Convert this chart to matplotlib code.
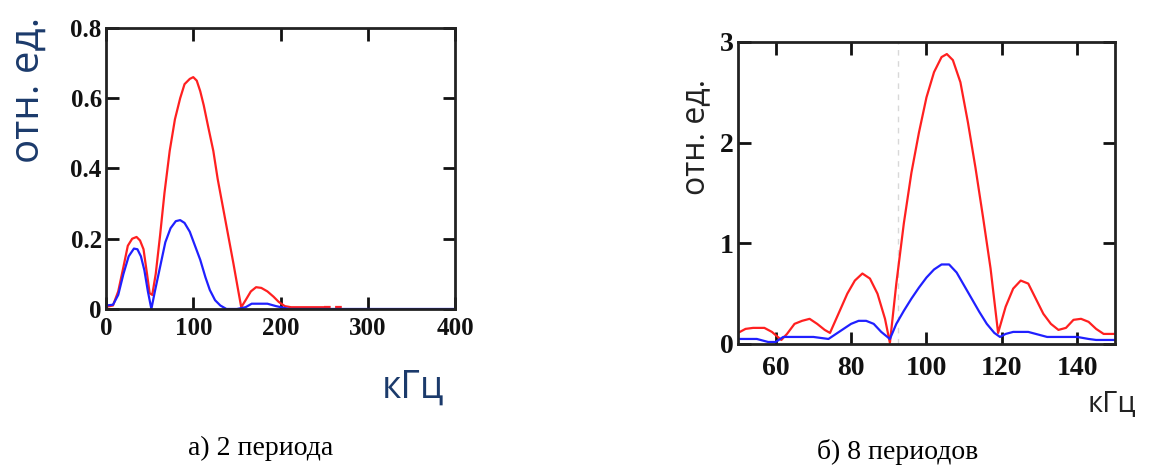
import numpy as np
from matplotlib import pyplot as plt

# a) 2 periods
freq_a = [0, 8, 14, 20, 25, 30, 35, 39, 43, 47, 50, 53, 57, 62, 67, 73, 79, 85, 90, 96, 100, 104, 108, 112, 117, 123, 128, 134,
          140, 146, 151, 155, 160, 166, 172, 178, 185, 192, 198, 205, 212, 250]
red_a = [0.006, 0.01, 0.05, 0.12, 0.18, 0.2, 0.205, 0.195, 0.17, 0.1, 0.045, 0.04, 0.1, 0.21, 0.33, 0.45, 0.54, 0.6, 0.64, 0.655,
         0.66, 0.65, 0.62, 0.58, 0.52, 0.45, 0.37, 0.29, 0.21, 0.13, 0.06, 0.005, 0.025, 0.05, 0.062, 0.06, 0.05, 0.035, 0.02,
         0.008, 0.005, 0.005]
red_a_tail = [250, 258, 262, 270]
red_a_tail_y = [0.005, 0.005, 0.005, 0.005]

freq_a_blue = [0, 8, 14, 20, 26, 32, 36, 40, 44, 48, 52, 56, 62, 68, 74, 80, 85, 90, 96, 102, 108, 114, 119, 125, 131, 138,
               150, 160, 167, 185, 195, 210, 400]
blue_a = [0.01, 0.012, 0.04, 0.1, 0.15, 0.172, 0.17, 0.15, 0.11, 0.05, 0.0, 0.05, 0.12, 0.19, 0.23, 0.25, 0.253, 0.245, 0.22,
          0.18, 0.14, 0.09, 0.054, 0.025, 0.01, 0.0, 0.0, 0.005, 0.015, 0.015, 0.008, 0.0, 0.0]

# b) 8 periods
freq_b = [50, 52, 54, 57, 59, 61.5, 63, 65, 67, 69, 71, 73, 74.4, 77, 79, 81, 83, 85, 87, 89, 90.3, 92, 94, 96, 98, 100, 102,
          104, 105.4, 107, 109, 111, 113, 115, 117, 119, 121, 123, 125, 127, 129, 131, 133, 135, 137, 139, 141, 143, 145, 147, 150]
red_b = [0.11, 0.15, 0.16, 0.16, 0.12, 0.04, 0.1, 0.2, 0.23, 0.25, 0.2, 0.14, 0.11, 0.33, 0.5, 0.63, 0.7, 0.65, 0.5, 0.25, 0.01,
         0.6, 1.2, 1.7, 2.1, 2.45, 2.7, 2.85, 2.88, 2.82, 2.6, 2.2, 1.75, 1.26, 0.75, 0.11, 0.37, 0.55, 0.63, 0.6, 0.45, 0.3,
         0.2, 0.14, 0.16, 0.24, 0.25, 0.22, 0.15, 0.1, 0.1]

freq_b_blue = [50, 55, 58, 60, 62, 70, 74, 76, 78, 80, 82, 84, 86, 88, 90.3, 92, 94, 96, 98, 100, 102, 104, 106, 108, 110, 112,
               114, 116, 118, 119.5, 121, 123, 127, 130, 132, 140, 143, 145, 150]
blue_b = [0.05, 0.05, 0.02, 0.02, 0.07, 0.07, 0.05, 0.1, 0.15, 0.2, 0.23, 0.23, 0.2, 0.12, 0.05, 0.2, 0.33, 0.45, 0.56, 0.66,
          0.74, 0.79, 0.79, 0.71, 0.58, 0.45, 0.32, 0.2, 0.11, 0.07, 0.1, 0.12, 0.12, 0.09, 0.07, 0.07, 0.05, 0.04, 0.04]

fig = plt.figure(figsize=(11.56, 4.7), dpi=100)
ax1 = fig.add_axes([0.0917, 0.3426, 0.3019, 0.5979])
ax2 = fig.add_axes([0.6384, 0.2681, 0.3261, 0.6426])

# left panel
ax1.plot(freq_a, red_a, color='#ff2020', lw=1.6)
ax1.plot(red_a_tail, red_a_tail_y, color='#ff2020', lw=1.6, ls=(0, (3, 2)))
ax1.plot(freq_a_blue, blue_a, color='#2020ff', lw=1.6)
ax1.set_xlim(0, 400)
ax1.set_ylim(0, 0.8)
ax1.set_xticks([0, 100, 200, 300, 400])
ax1.set_yticks([0, 0.2, 0.4, 0.6, 0.8])
ax1.set_yticklabels(['0', '0.2', '0.4', '0.6', '0.8'])
ax1.tick_params(axis='x', pad=6)
ax1.tick_params(axis='y', pad=3)

# right panel
ax2.axvline(92.4, color='#d8d8d8', lw=1, ls=(0, (4, 4)))
ax2.plot(freq_b, red_b, color='#ff2020', lw=1.6)
ax2.plot(freq_b_blue, blue_b, color='#2020ff', lw=1.6)
ax2.set_xlim(50, 150)
ax2.set_ylim(0, 3)
ax2.set_xticks([60, 80, 100, 120, 140])
ax2.set_yticks([0, 1, 2, 3])
ax2.tick_params(axis='x', pad=9)
ax2.tick_params(axis='y', pad=3)

for ax, fs in ((ax1, 18), (ax2, 20)):
    ax.tick_params(direction='in', length=9, width=2, top=True, right=True, colors='#111111')
    for lab in ax.get_xticklabels() + ax.get_yticklabels():
        lab.set_fontproperties({'family': 'Liberation Serif', 'weight': 'bold', 'size': fs})
    for s in ax.spines.values():
        s.set_linewidth(2)
        s.set_color('#222222')

# axis labels
fig.text(28 / 1156, 1 - 90 / 470, 'отн. ед.', rotation=90, ha='center', va='center',
         family='Open Sans', fontsize=29, color='#1b3a6b')
fig.text(413 / 1156, 1 - 388 / 470, 'кГц', ha='center', va='center',
         family='Open Sans', fontsize=27, color='#1b3a6b')
fig.text(696 / 1156, 1 - 137 / 470, 'отн. ед.', rotation=90, ha='center', va='center',
         family='Open Sans', fontsize=23, color='#222222')
fig.text(1112 / 1156, 1 - 404 / 470, 'кГц', ha='center', va='center',
         family='Open Sans', fontsize=21, color='#222222')

# captions
fig.text(261 / 1156, 1 - 448 / 470, 'а) 2 периода', ha='center', va='center',
         family='Liberation Serif', fontsize=20)
fig.text(898 / 1156, 1 - 452 / 470, 'б) 8 периодов', ha='center', va='center',
         family='Liberation Serif', fontsize=20)

fig.savefig('out.png', dpi=100)
